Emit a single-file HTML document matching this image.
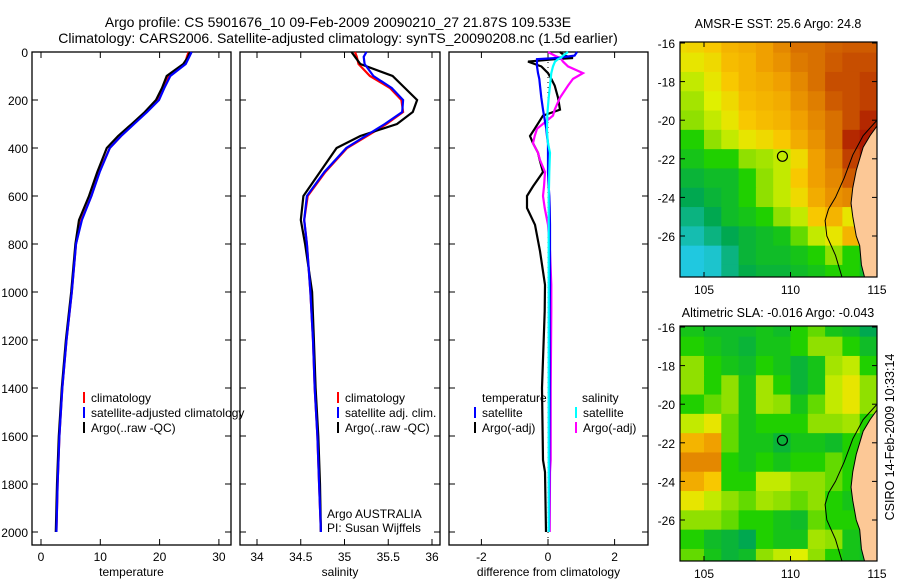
<!DOCTYPE html>
<html><head><meta charset="utf-8"><style>
body{margin:0;background:#fff;width:900px;height:580px;overflow:hidden}
svg{font-family:"Liberation Sans",sans-serif;font-size:12px}
</style></head><body>
<svg id="fig" width="900" height="580" xmlns="http://www.w3.org/2000/svg">
<text x="338" y="27" text-anchor="middle" font-size="14">Argo profile: CS 5901676_10 09-Feb-2009 20090210_27 21.87S 109.533E</text>
<text x="338" y="43" text-anchor="middle" font-size="14">Climatology: CARS2006. Satellite-adjusted climatology: synTS_20090208.nc (1.5d earlier)</text>
<text x="778" y="28" text-anchor="middle" font-size="12.5">AMSR-E SST: 25.6 Argo: 24.8</text>
<text x="778" y="317" text-anchor="middle" font-size="12.5">Altimetric SLA: -0.016 Argo: -0.043</text>
<text transform="translate(894,437) rotate(-90)" text-anchor="middle" font-size="12.5">CSIRO 14-Feb-2009 10:33:14</text>
</svg>
<script>
// ---- data ----
const depths=[0,20,50,100,150,200,250,300,350,400,500,600,700,800,1000,1200,1400,1600,1800,2000];
const tempClim=[24.9,24.6,24.3,21.6,20.6,19.7,17.8,15.6,13.5,11.6,9.8,8.5,6.8,5.9,5.2,4.3,3.6,3.1,2.8,2.6];
const tempSat=[25.4,25.0,24.4,21.8,20.8,19.9,17.9,15.7,13.5,11.6,9.9,8.5,6.9,5.9,5.2,4.3,3.6,3.1,2.8,2.6];
const tempArgo=[25.1,24.8,24.0,21.2,20.4,19.4,17.5,15.3,13.0,11.1,9.5,8.1,6.4,5.8,5.1,4.2,3.5,3.0,2.7,2.5];
const salClim=[35.12,35.14,35.16,35.29,35.52,35.65,35.67,35.48,35.26,35.03,34.78,34.58,34.54,34.57,34.61,34.64,34.66,34.69,34.71,34.73];
const salSat=[35.25,35.22,35.23,35.33,35.54,35.67,35.66,35.46,35.24,35.02,34.77,34.57,34.54,34.57,34.61,34.64,34.66,34.69,34.71,34.73];
const salArgo=[35.08,35.12,35.18,35.55,35.69,35.83,35.78,35.60,35.18,34.91,34.72,34.53,34.50,34.55,34.63,34.65,34.67,34.70,34.72,34.73];
const diffDepths=[0,15,25,30,40,60,88,112,140,190,240,265,320,350,380,420,450,500,560,600,650,720,830,970,1080,1400,1700,1750,2000];
const dTempArgo=[0.36,0.5,0.75,0.2,-0.6,-0.2,0,0.1,0.2,0.3,0.36,-0.15,-0.4,-0.54,-0.45,-0.3,-0.25,-0.15,-0.45,-0.63,-0.63,-0.39,-0.24,-0.09,-0.1,-0.18,-0.15,-0.09,-0.06];
const dTempSat=[0.87,0.8,0.27,-0.33,-0.33,-0.33,-0.3,-0.26,-0.24,-0.2,-0.15,-0.12,-0.05,-0.03,0,0,0,0,0.02,0.04,0.05,0.06,0.06,0.06,0.05,0.05,0.04,0.04,0.03];
const dSalSat=[0.6,0.45,0.38,0.3,0.21,0.15,0.1,0.08,0.06,0.02,-0.01,-0.02,-0.03,-0.02,0,0.06,0.05,0.04,0.03,0.02,0.02,0.02,0.02,0.02,0.02,0.02,0.02,0.02,0.02];
const dSalArgo=[0,0.2,0.36,0.4,0.45,0.6,1.05,0.75,0.6,0.36,0.2,0.15,-0.33,-0.4,-0.45,-0.3,-0.24,-0.09,-0.12,-0.15,-0.1,0,0.06,0.1,0.1,0.08,0.08,0.06,0.05];
const depthTicks=[0,200,400,600,800,1000,1200,1400,1600,1800,2000];
const tempTicks=[0,10,20,30];
const salTicks=[34,34.5,35,35.5,36];
const diffTicks=[-2,0,2];
const latTicks=[-16,-18,-20,-22,-24,-26];
const lonTicks=[105,110,115];
const sstGrid=[
[.62,.63,.65,.7,.72,.75,.8,.85,.85,.87,.88,.88],
[.6,.6,.62,.68,.7,.75,.78,.83,.85,.88,.9,.9],
[.55,.55,.6,.65,.7,.72,.75,.8,.85,.9,.9,.92],
[.52,.52,.58,.62,.68,.7,.72,.78,.82,.88,.9,.92],
[.5,.5,.55,.6,.65,.68,.7,.75,.8,.85,.9,.95],
[.45,.45,.5,.55,.6,.62,.65,.72,.78,.85,.95,.97],
[.42,.42,.45,.45,.5,.52,.55,.62,.75,.82,.92,.97],
[.38,.38,.4,.4,.45,.5,.55,.65,.75,.8,.88,.9],
[.35,.35,.38,.4,.45,.5,.55,.62,.72,.78,.8,.8],
[.3,.3,.35,.4,.42,.45,.5,.55,.65,.7,.6,.6],
[.25,.25,.3,.35,.38,.4,.42,.48,.55,.6,.7,.5],
[.2,.2,.22,.3,.38,.4,.4,.42,.45,.5,.45,.4],
[.2,.2,.22,.3,.36,.38,.38,.4,.42,.45,.45,.4]];
const slaGrid=[
[.42,.42,.4,.4,.4,.42,.4,.45,.48,.42,.4,.35],
[.45,.45,.42,.4,.38,.42,.42,.45,.5,.5,.45,.4],
[.5,.5,.45,.42,.4,.45,.42,.38,.42,.52,.55,.45],
[.5,.5,.45,.5,.42,.52,.45,.38,.42,.55,.6,.5],
[.45,.45,.48,.5,.42,.52,.5,.42,.48,.55,.6,.5],
[.55,.55,.6,.48,.42,.45,.45,.45,.5,.5,.52,.45],
[.7,.7,.75,.48,.42,.42,.38,.42,.42,.4,.45,.42],
[.8,.8,.8,.45,.42,.45,.42,.45,.45,.48,.45,.42],
[.72,.72,.65,.45,.45,.55,.55,.5,.5,.48,.45,.42],
[.6,.6,.55,.5,.48,.52,.5,.48,.5,.45,.42,.42],
[.5,.5,.5,.48,.45,.45,.42,.4,.48,.45,.45,.42],
[.45,.45,.4,.38,.35,.45,.42,.42,.52,.5,.42,.4],
[.48,.48,.42,.38,.4,.5,.55,.58,.5,.45,.42,.4]];
const landLon=[115,115,114.3,114.1,114,113.8,113.6,113.5,113.6,113.8,114,114.2,114.6];
const landLat=[-20.3,-28.2,-28.2,-27.5,-26.5,-26,-25,-24.3,-23.5,-22.6,-22,-21.4,-20.8];
const shelfLon=[115,114.2,113.6,113.1,112.6,112.2,112.0,112.1,112.6,113.0];
const shelfLat=[-20.0,-20.8,-21.8,-23,-24,-24.6,-25.2,-26,-27,-28.2];
const argoLon=109.533, argoLat=-21.87;

const NS='http://www.w3.org/2000/svg';
const fig=document.getElementById('fig');
function el(tag,attrs,parent){const e=document.createElementNS(NS,tag);for(const k in attrs)e.setAttribute(k,attrs[k]);(parent||fig).appendChild(e);return e;}
const yD=d=>52+0.24*d;
const panels=[
 {name:'temperature',x0:32,x1:231,sx:v=>41+5.93*v,ticks:tempTicks,label:'temperature'},
 {name:'salinity',x0:240,x1:440,sx:v=>257+87.5*(v-34),ticks:salTicks,label:'salinity'},
 {name:'difference',x0:449,x1:648,sx:v=>548+33.3*v,ticks:diffTicks,label:'difference from climatology'}];
panels.forEach((p,pi)=>{
  const g=el('g',{});
  
  
  const r=el('rect',{x:p.x0,y:52,width:p.x1-p.x0,height:493,fill:'none',stroke:'#000','stroke-width':1.3},g);
  
  
  depthTicks.forEach(d=>{
    el('line',{x1:p.x0,x2:p.x0+6,y1:yD(d),y2:yD(d),stroke:'#000'},g);
    el('line',{x1:p.x1,x2:p.x1-6,y1:yD(d),y2:yD(d),stroke:'#000'},g);
    if(pi==0){const t=el('text',{x:28,y:yD(d)+5,'text-anchor':'end'},g);t.textContent=d;
      }
  });
  p.ticks.forEach(v=>{
    const x=p.sx(v);
    el('line',{x1:x,x2:x,y1:545,y2:539,stroke:'#000'},g);
    el('line',{x1:x,x2:x,y1:52,y2:58,stroke:'#000'},g);
    const t=el('text',{x:x,y:561,'text-anchor':'middle'},g);t.textContent=v;
    
  });
  const xl=el('text',{x:(p.x0+p.x1)/2,y:576,'text-anchor':'middle'},g);xl.textContent=p.label;
  
});
function line(vals,dep,sx,color,name,dash){
  const pts=vals.map((v,i)=>sx(v).toFixed(1)+','+yD(dep[i]).toFixed(1)).join(' ');
  const l=el('polyline',{points:pts,fill:'none',stroke:color,'stroke-width':2.2});
  if(dash)l.setAttribute('stroke-dasharray',dash);
  
  
}
const P=panels;
line(tempClim,depths,P[0].sx,'#f00','temp-climatology-line');
line(tempArgo,depths,P[0].sx,'#000','temp-argo-line');
line(tempSat,depths,P[0].sx,'#00f','temp-satellite-line');
line(salClim,depths,P[1].sx,'#f00','sal-climatology-line');
line(salArgo,depths,P[1].sx,'#000','sal-argo-line');
line(salSat,depths,P[1].sx,'#00f','sal-satellite-line');
const zl=el('line',{x1:548,x2:548,y1:52,y2:545,stroke:'#000','stroke-dasharray':'1,4'});

line(dTempArgo,diffDepths,P[2].sx,'#000','diff-temp-argo-line');
line(dSalArgo,diffDepths,P[2].sx,'#f0f','diff-sal-argo-line');
line(dTempSat,diffDepths,P[2].sx,'#00f','diff-temp-satellite-line');
line(dSalSat,diffDepths,P[2].sx,'#0ff','diff-sal-satellite-line');
function legend(x,y,color,txt,name){
  if(color){const m=el('line',{x1:x,x2:x,y1:y-10,y2:y+1,stroke:color,'stroke-width':2});
    }
  const t=el('text',{x:x+7,y:y});t.textContent=txt;
  
}
legend(84,402,'#f00','climatology','legend-climatology');
legend(84,417,'#00f','satellite-adjusted climatology','legend-satellite-adjusted');
legend(84,432,'#000','Argo(..raw -QC)','legend-argo');
legend(338,402,'#f00','climatology','legend-sal-climatology');
legend(338,417,'#00f','satellite adj. clim.','legend-sal-satellite');
legend(338,432,'#000','Argo(..raw -QC)','legend-sal-argo');
legend(475,402,null,'temperature','legend-temperature-heading');
legend(575,402,null,'salinity','legend-salinity-heading');
legend(475,417,'#00f','satellite','legend-diff-temp-satellite');
legend(475,432,'#000','Argo(-adj)','legend-diff-temp-argo');
legend(576,417,'#0ff','satellite','legend-diff-sal-satellite');
legend(576,432,'#f0f','Argo(-adj)','legend-diff-sal-argo');
let t1=el('text',{x:327,y:518});t1.textContent='Argo AUSTRALIA';

let t2=el('text',{x:327,y:532});t2.textContent='PI: Susan Wijffels';


// ---- maps ----
const stops=[[0.2,[32,200,224]],[0.35,[0,168,80]],[0.45,[32,208,0]],[0.5,[144,224,0]],[0.58,[224,240,0]],[0.65,[248,200,0]],[0.75,[240,160,0]],[0.85,[216,112,0]],[0.92,[192,64,0]],[1,[160,0,0]]];
function cmap(v){for(let i=1;i<stops.length;i++){if(v<=stops[i][0]){const a=stops[i-1],b=stops[i],f=(v-a[0])/(b[0]-a[0]);
  return 'rgb('+a[1].map((c,k)=>Math.round(c+f*(b[1][k]-c))).join(',')+')';}}return 'rgb(160,0,0)';}
function drawMap(grid,top,name,id){
  const lx=lon=>704+(lon-105)*17.3, ly=lat=>top+1+(-16-lat)*19.3;
  const g=el('g',{});
  
  const cp=el('clipPath',{id:id},g);el('rect',{x:680,y:top,width:197,height:235},cp);
  const cg=el('g',{'clip-path':'url(#'+id+')'},g);
  grid.forEach((row,j)=>row.forEach((v,i)=>{
    const c=el('rect',{x:lx(103+i),y:ly(-15.5-j),width:17.8,height:19.8,fill:cmap(v)},cg);
    
  }));
  const lp=el('polygon',{points:landLon.map((l,i)=>lx(l)+','+ly(landLat[i])).join(' '),fill:'#fcc896',stroke:'#000','stroke-width':1},cg);
  
  const sp=el('polyline',{points:shelfLon.map((l,i)=>lx(l)+','+ly(shelfLat[i])).join(' '),fill:'none',stroke:'#000','stroke-width':1},cg);
  
  const ac=el('circle',{cx:lx(argoLon),cy:ly(argoLat),r:5,fill:'none',stroke:'#000','stroke-width':1.2},g);
  
  el('rect',{x:680,y:top,width:197,height:235,fill:'none',stroke:'#000','stroke-width':1.2},g);
  latTicks.forEach(l=>{const y=ly(l);
    el('line',{x1:680,x2:685,y1:y,y2:y,stroke:'#000'},g);el('line',{x1:877,x2:872,y1:y,y2:y,stroke:'#000'},g);
    const t=el('text',{x:675,y:y+5,'text-anchor':'end'},g);t.textContent=l;
    });
  lonTicks.forEach(l=>{const x=lx(l);
    el('line',{x1:x,x2:x,y1:top+235,y2:top+230,stroke:'#000'},g);el('line',{x1:x,x2:x,y1:top,y2:top+5,stroke:'#000'},g);
    const t=el('text',{x:x,y:top+252,'text-anchor':'middle'},g);t.textContent=l;
    });
}
drawMap(sstGrid,42,'sst-map','clipA');
drawMap(slaGrid,326,'sla-map','clipB');
</script>
</body></html>
